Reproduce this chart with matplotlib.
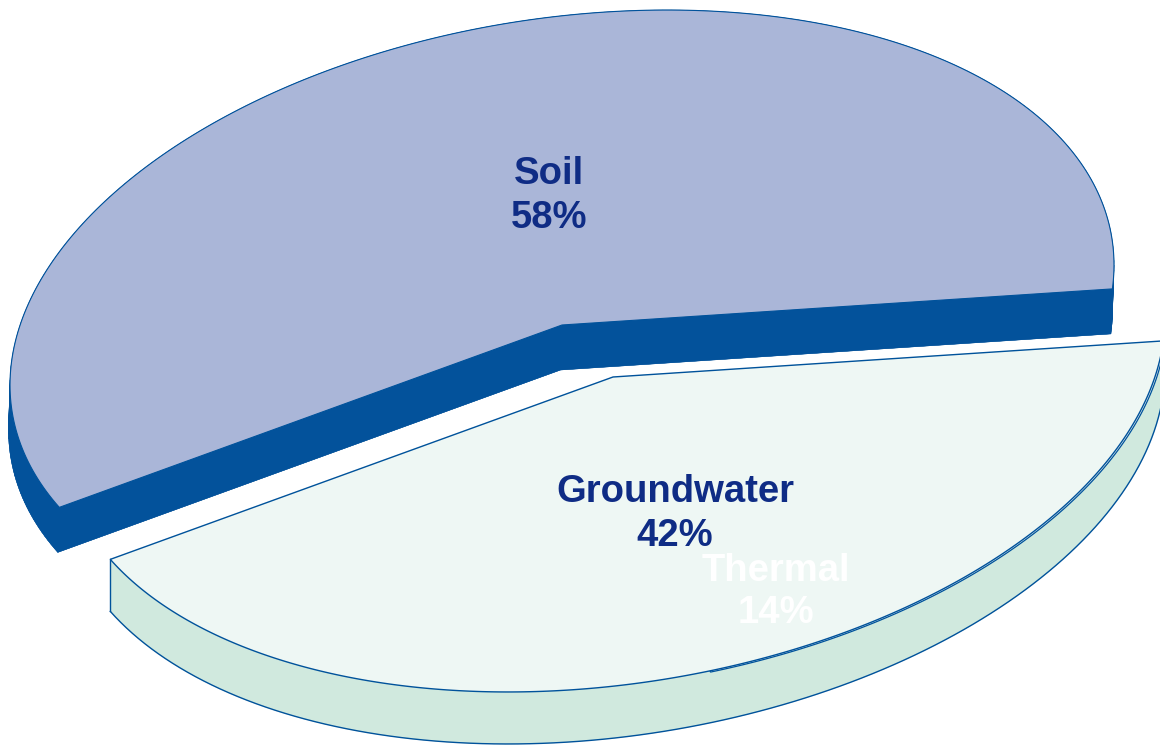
import numpy as np
import matplotlib
matplotlib.use("Agg")
import matplotlib.pyplot as plt
from matplotlib.patches import Polygon

# --- data ---
slice_names = ["Soil", "Groundwater", "Thermal"]
slice_values = [58, 42, 14]
label_texts = ["Soil\n58%", "Groundwater\n42%", "Thermal\n14%"]

# --- styling / geometry ---
W, H = 1160, 745
LINE = "#00529B"
SOIL_TOP, SOIL_SIDE = "#AAB6D8", "#03529B"
GW_TOP, GW_SIDE = "#EEF7F4", "#D0E9DE"
TEXT_DARK = "#0F2C85"
START = 155.6                       # first slice edge, degrees on the unit circle
SHAPE = np.array([[552.0, 0.0], [-60.0, 309.2]])   # circle -> tilted ellipse
SOIL_C, SOIL_SHIFT = np.array([562.0, 325.0]), np.array([-1.5, 45.0])
GW_C, GW_SHIFT = np.array([613.0, 377.0]), np.array([0.0, 52.0])
TH_C = GW_C + np.array([1.6, 1.0])
TH_SWEEP = 1.5                      # thermal rim sweep relative to its share

plt.rcParams["font.family"] = ["Liberation Sans", "DejaVu Sans"]
fig = plt.figure(figsize=(W / 100, H / 100), dpi=100)
ax = fig.add_axes([0, 0, 1, 1])
ax.set_xlim(0, W)
ax.set_ylim(H, 0)
ax.axis("off")


def arc(center, a0, a1, n=240):
    t = np.radians(np.linspace(a0, a1, n))
    return center + (SHAPE @ np.vstack([np.cos(t), np.sin(t)])).T


def sector(center, a0, a1):
    return np.vstack([center, arc(center, a0, a1)])


def extrude(poly, shift, color, z):
    """Fill the volume between a top polygon and its shifted copy."""
    ax.add_patch(Polygon(poly + shift, closed=True, fc=color, ec=color, lw=0.3, zorder=z))
    ring = np.vstack([poly, poly[:1]])
    for p, q in zip(ring[:-1], ring[1:]):
        ax.add_patch(Polygon([p, q, q + shift, p + shift], closed=True,
                             fc=color, ec=color, lw=0.3, zorder=z))


total = slice_values[0] + slice_values[1]
soil_sweep = 360 * slice_values[0] / total
gw_sweep = 360 * slice_values[1] / total
soil_end = START + soil_sweep
gw_end = soil_end + gw_sweep

# Soil
soil = sector(SOIL_C, START, soil_end)
extrude(soil, SOIL_SHIFT, SOIL_SIDE, 1)
ax.add_patch(Polygon(soil, closed=True, fc=SOIL_TOP, ec=LINE, lw=0.8, zorder=2))

# Groundwater side
gw = sector(GW_C, soil_end, gw_end)
extrude(gw, GW_SHIFT, GW_SIDE, 3)
low = arc(GW_C, soil_end, gw_end) + GW_SHIFT
ax.plot(low[:, 0], low[:, 1], color=LINE, lw=1.0, zorder=4)
tip = arc(GW_C, gw_end, gw_end, 1)[0]
ax.plot([tip[0], tip[0] + GW_SHIFT[0]], [tip[1], tip[1] + GW_SHIFT[1]],
        color=LINE, lw=1.0, zorder=4)

# Thermal rim, just outside the groundwater edge
th_a1 = soil_end + 360 * slice_values[2] / 100 * TH_SWEEP
th = sector(TH_C, soil_end, th_a1)
ax.add_patch(Polygon(th, closed=True, fc=GW_TOP, ec=LINE, lw=0.9, zorder=5))

# Groundwater top
ax.add_patch(Polygon(gw, closed=True, fc=GW_TOP, ec=LINE, lw=1.0, zorder=6))

# Labels
label_pos = [(549, 196), (675, 514), (776, 592)]
label_col = [TEXT_DARK, TEXT_DARK, "#FFFFFF"]
label_gap = [1.3, 1.28, 1.22]
for s, (x, y), c, g in zip(label_texts, label_pos, label_col, label_gap):
    ax.text(x, y, s, ha="center", va="center", fontsize=27.5, fontweight="bold",
            color=c, linespacing=g, zorder=8)

fig.savefig("out.png", dpi=100)
